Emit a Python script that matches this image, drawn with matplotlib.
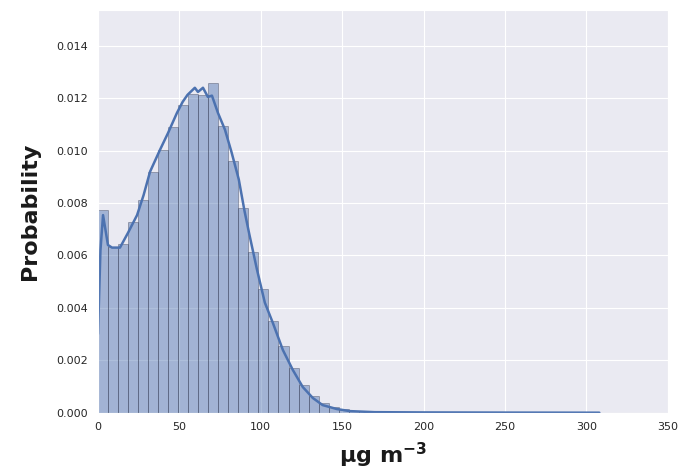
import numpy as np
import matplotlib
matplotlib.use('Agg')
import matplotlib.pyplot as plt
import seaborn as sns

sns.set_style('darkgrid')
plt.rcParams['font.family'] = ['DejaVu Sans']

# histogram of concentrations, 50 bins spanning the data range
data_min, data_max = 0.0, 308.0
bin_heights = [0.00774, 0.00632, 0.00645, 0.00727, 0.00812, 0.00918, 0.01002,
               0.01090, 0.01176, 0.01215, 0.01213, 0.01258, 0.01095, 0.00960,
               0.00780, 0.00613, 0.00472, 0.00350, 0.00255, 0.00170, 0.00106,
               0.00064, 0.00037, 0.00022, 0.00014, 0.00008, 0.00005, 0.00003,
               0.00002, 0.00002, 0.00001, 0.00001, 0.00001, 0.00001, 0.000005,
               0.000005, 0.000005, 0.000004, 0.000004, 0.000003, 0.000003,
               0.000003, 0.000002, 0.000002, 0.000002, 0.000002, 0.000001,
               0.000001, 0.000001, 0.000001]

# kde curve
kde_x = [0, 1.5, 3.1, 6.1, 8.6, 13.5, 18.4, 24, 28, 32, 38, 43, 48.5, 52, 55,
         59.5, 61.4, 64.5, 67.5, 70, 73.7, 78, 82, 86.5, 90, 93, 97.6, 102.5,
         107.4, 113.6, 119.7, 125.8, 132, 138, 146.7, 154.7, 170, 200, 250, 308]
kde_y = [0.0030, 0.0062, 0.00754, 0.0064, 0.0063, 0.0063, 0.00686, 0.00754,
         0.0083, 0.0092, 0.01002, 0.01067, 0.01144, 0.01186, 0.01213, 0.0124,
         0.01224, 0.0124, 0.01205, 0.0121, 0.01144, 0.0108, 0.00995, 0.0089,
         0.0077, 0.0068, 0.00548, 0.0042, 0.00343, 0.00239, 0.00163, 0.00098,
         0.00056, 0.00029, 0.00014, 0.00006, 0.00002, 0.00001, 0.000004, 0.0]

blue = '#4C72B0'

fig = plt.figure(figsize=(6.82, 4.73), dpi=100)
ax = fig.add_axes([0.1437, 0.1275, 0.8353, 0.8515])

edges = np.linspace(data_min, data_max, len(bin_heights) + 1)
ax.bar(edges[:-1], bin_heights, width=np.diff(edges), align='edge',
       color=(0.298, 0.447, 0.690, 0.45), edgecolor=(0.15, 0.17, 0.25, 0.35),
       linewidth=0.7)
ax.plot(kde_x, kde_y, color=blue, lw=1.8)

ax.set_xlim(0, 350)
ax.set_ylim(0, 0.01537)
ax.set_xticks(np.arange(0, 351, 50))
ax.set_yticks(np.arange(0, 0.0141, 0.002))
ax.yaxis.set_major_formatter(matplotlib.ticker.FormatStrFormatter('%.3f'))
ax.tick_params(labelsize=8, colors='#262626')

ax.set_ylabel('Probability', fontsize=16, fontweight='bold', color='#1a1a1a',
              labelpad=12)
ax.set_xlabel('µg m$^{\\mathbf{-3}}$', fontsize=16, fontweight='bold',
              color='#1a1a1a', labelpad=6)

fig.savefig('out.png', dpi=100)
